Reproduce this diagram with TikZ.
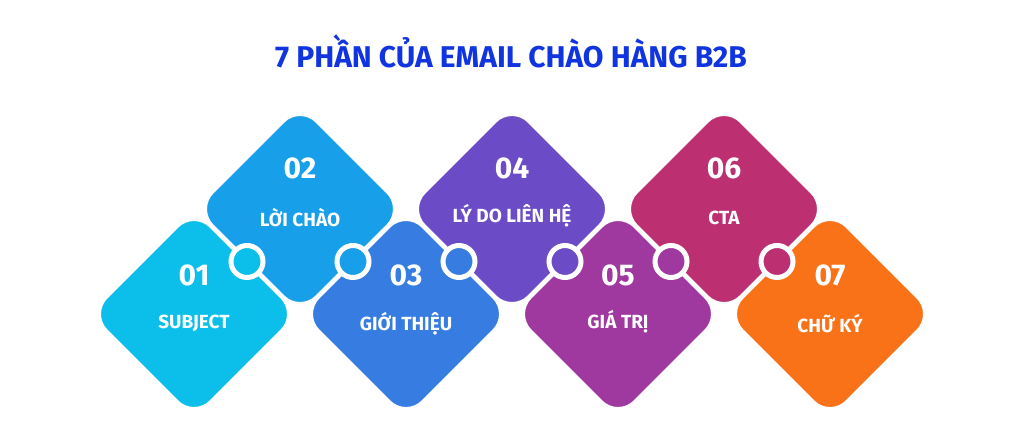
\documentclass[tikz,border=0pt]{standalone}
\usepackage{fontspec}
\setmainfont{Fira Sans}
\usetikzlibrary{shapes.geometric,calc}
\definecolor{cA}{HTML}{0BBFEA}
\definecolor{cB}{HTML}{179FEA}
\definecolor{cC}{HTML}{377CE0}
\definecolor{cD}{HTML}{6B4CC6}
\definecolor{cE}{HTML}{A0399F}
\definecolor{cF}{HTML}{BC2F71}
\definecolor{cG}{HTML}{F97218}
\definecolor{ctitle}{HTML}{1034DF}
\tikzset{
  piece/.style={diamond, aspect=1, inner sep=0pt, minimum width=210.8pt, minimum height=210.8pt,
    rounded corners=24pt, draw=white, line width=3.5pt, fill=#1},
  knob/.style={circle, inner sep=0pt, minimum size=32pt, draw=white, line width=5pt, fill=#1},
  numtxt/.style={text=white, font=\bfseries\fontsize{30}{31}\selectfont},
  labtxt/.style={text=white, font=\bfseries\fontsize{19}{20}\selectfont},
  titletxt/.style={text=ctitle, font=\bfseries\fontsize{30}{32}\selectfont}
}
\begin{document}
\begin{tikzpicture}[x=1pt,y=-1pt]
\useasboundingbox (0,0) rectangle (1024,445);
\fill[white] (0,0) rectangle (1024,445);
\node[titletxt] (title) at (511,51) {7 PHẦN CỦA EMAIL CHÀO HÀNG B2B};
\node[piece=cA] (d1) at (194,314) {};
\node[piece=cB] (d2) at (300,209) {};
\node[piece=cC] (d3) at (406,314) {};
\node[piece=cD] (d4) at (512,209) {};
\node[piece=cE] (d5) at (618,314) {};
\node[piece=cF] (d6) at (724,209) {};
\node[piece=cG] (d7) at (830,314) {};
\node[knob=cA] (k1) at ($(d1)!0.5!(d2)$) {};
\node[knob=cB] (k2) at ($(d2)!0.5!(d3)$) {};
\node[knob=cC] (k3) at ($(d3)!0.5!(d4)$) {};
\node[knob=cD] (k4) at ($(d4)!0.5!(d5)$) {};
\node[knob=cE] (k5) at ($(d5)!0.5!(d6)$) {};
\node[knob=cF] (k6) at ($(d6)!0.5!(d7)$) {};
\node[numtxt] (n1) at ($(d1)+(0,-39)$) {01};
\node[numtxt] (n2) at ($(d2)+(0,-41)$) {02};
\node[numtxt] (n3) at ($(d3)+(0,-39)$) {03};
\node[numtxt] (n4) at ($(d4)+(0,-41)$) {04};
\node[numtxt] (n5) at ($(d5)+(0,-39)$) {05};
\node[numtxt] (n6) at ($(d6)+(0,-41)$) {06};
\node[numtxt] (n7) at ($(d7)+(0,-39)$) {07};
\node[labtxt] (l1) at ($(d1)+(0,9)$) {SUBJECT};
\node[labtxt] (l2) at ($(d2)+(0,9)$) {LỜI CHÀO};
\node[labtxt] (l3) at ($(d3)+(0,10)$) {GIỚI THIỆU};
\node[labtxt] (l4) at ($(d4)+(0,7)$) {LÝ DO LIÊN HỆ};
\node[labtxt] (l5) at ($(d5)+(0,8)$) {GIÁ TRỊ};
\node[labtxt] (l6) at ($(d6)+(0,9)$) {CTA};
\node[labtxt] (l7) at ($(d7)+(0,10)$) {CHỮ KÝ};
\end{tikzpicture}
\end{document}
